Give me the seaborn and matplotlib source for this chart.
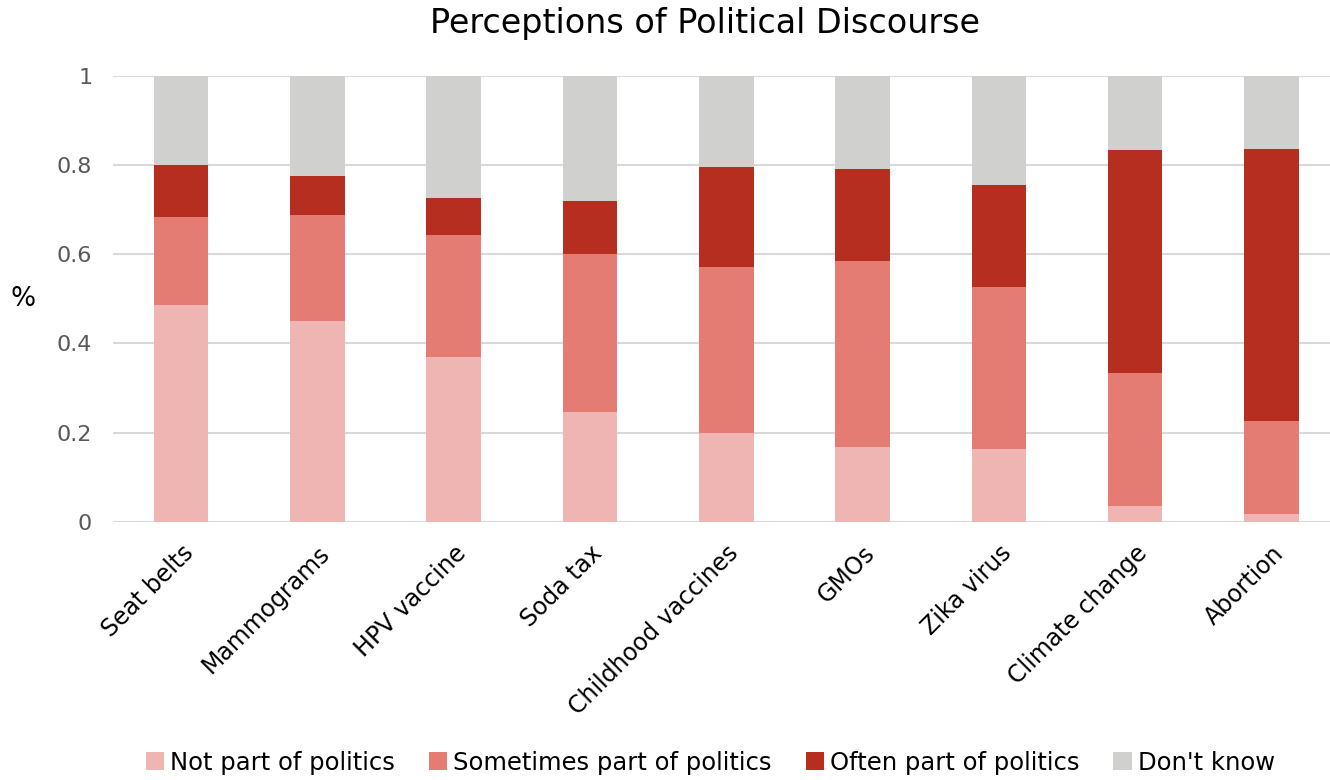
import numpy as np
import pandas as pd
import matplotlib
matplotlib.use("Agg")
import matplotlib.pyplot as plt
from matplotlib.patches import Patch
import seaborn as sns

categories = ["Seat belts", "Mammograms", "HPV vaccine", "Soda tax", "Childhood vaccines",
              "GMOs", "Zika virus", "Climate change", "Abortion"]
not_part = [0.486, 0.451, 0.370, 0.247, 0.199, 0.168, 0.162, 0.035, 0.017]
sometimes = [0.197, 0.237, 0.273, 0.354, 0.372, 0.416, 0.364, 0.298, 0.209]
often = [0.117, 0.087, 0.083, 0.118, 0.226, 0.207, 0.230, 0.501, 0.611]
dont_know = [0.200, 0.225, 0.274, 0.281, 0.203, 0.209, 0.244, 0.166, 0.163]

series_names = ["Not part of politics", "Sometimes part of politics",
                "Often part of politics", "Don't know"]
series_values = [not_part, sometimes, often, dont_know]
colors = ["#EFB5B3", "#E57C74", "#B52E1F", "#D0D0CE"]

sns.set_theme(style="white")
plt.rcParams["font.family"] = ["DejaVu Sans"]
plt.rcParams["text.color"] = "black"

fig = plt.figure(figsize=(13.3, 7.8), dpi=100)
ax = fig.add_axes([0.085, 0.3312, 0.915, 0.5712])

bottom = np.zeros(len(categories))
for name, vals, col in zip(series_names, series_values, colors):
    df = pd.DataFrame({"topic": categories, "share": vals})
    sns.barplot(data=df, x="topic", y="share", color=col, width=0.4, saturation=1,
                bottom=bottom, ax=ax, linewidth=0, zorder=3)
    bottom = bottom + np.array(vals)

ax.set_ylim(0, 1)
ax.set_xlim(-0.5, 8.43)
ax.set_yticks([0, 0.2, 0.4, 0.6, 0.8, 1.0])
ax.set_yticklabels(["0", "0.2", "0.4", "0.6", "0.8", "1"], fontsize=16, color="#595959")
ax.yaxis.grid(True, color="#D9D9D9", linewidth=1.5, zorder=0)
ax.set_axisbelow(True)
for s in ax.spines.values():
    s.set_visible(False)
ax.tick_params(axis="both", length=0)
ax.tick_params(axis="y", pad=15)
ax.set_xlabel("")
ax.set_ylabel("%", fontsize=19, rotation=0, labelpad=24, va="center", color="black")
ax.set_xticks(range(len(categories)))
ax.set_xticklabels(categories, rotation=45, ha="right", rotation_mode="anchor",
                   fontsize=17, color="black")
ax.tick_params(axis="x", pad=14)

fig.text(0.53, 0.97, "Perceptions of Political Discourse", ha="center", va="center",
         fontsize=24, color="black")

handles = [Patch(facecolor=c, edgecolor="none", label=n) for n, c in zip(series_names, colors)]
fig.legend(handles=handles, loc="center", bbox_to_anchor=(0.534, 0.022), ncol=4, frameon=False,
           fontsize=17.5, handlelength=0.75, handleheight=0.75, handletextpad=0.25,
           columnspacing=1.4, labelcolor="black")

fig.savefig("out.png", dpi=100)
